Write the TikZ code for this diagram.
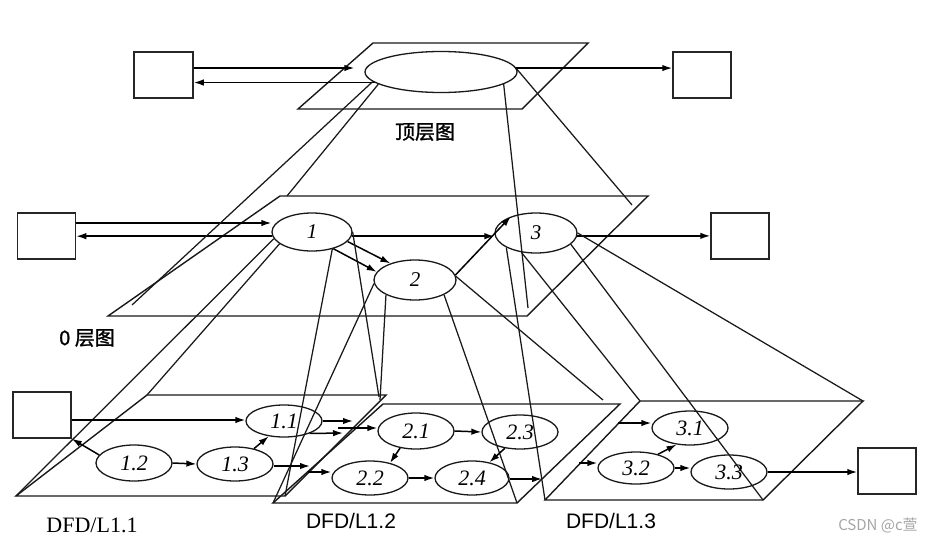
\documentclass[tikz,border=0pt]{standalone}
\usepackage{fontspec}
\setmainfont{Liberation Serif}
\newfontfamily\cjkfont[FakeBold=1.2]{Noto Sans CJK SC}
\newfontfamily\wmfont{Noto Sans CJK SC}
\newfontfamily\arialfont{Liberation Sans}
\usetikzlibrary{shapes.geometric,arrows.meta}
\begin{document}
\begin{tikzpicture}[x=1pt,y=-1pt,
  ln/.style={line width=1.25pt, draw=black!90},
  pg/.style={line width=1.4pt, draw=black!90, line join=miter},
  arr/.style={line width=1.5pt, draw=black, -{Latex[length=10pt,width=6.5pt]}},
  ent/.style={rectangle, draw=black!85, line width=1.5pt, minimum width=58pt, minimum height=46pt, inner sep=0pt},
  ell/.style={ellipse, draw=black!90, line width=1.3pt, inner sep=0pt},
  midlbl/.style={font=\fontsize{21}{24}\selectfont\itshape},
  botlbl/.style={font=\fontsize{22}{24}\selectfont\itshape},
]
\useasboundingbox (0,0) rectangle (928,541);
\fill[white] (0,0) rectangle (928,541);

% ---------- corner coordinates ----------
\coordinate (MBL) at (108,316); \coordinate (MBR) at (527,316);
\coordinate (MTR) at (648,196); \coordinate (MTL) at (280,196);
\coordinate (tpA) at (132,305); \coordinate (tpB) at (287,196);
\coordinate (tpC) at (528,308); \coordinate (tpD) at (632,205);
\coordinate (P1BL) at (16,496);  \coordinate (P1BR) at (285,496);
\coordinate (P1TR) at (386,395); \coordinate (P1TL) at (147,395);
\coordinate (P2BL) at (273,503); \coordinate (P2BR) at (517,503);
\coordinate (P2TR) at (620,404); \coordinate (P2TL) at (383,404);
\coordinate (P3BL) at (545,500); \coordinate (P3BR) at (763,500);
\coordinate (P3TR) at (863,401); \coordinate (P3TL) at (640,401);
\coordinate (q1) at (379,397); \coordinate (q2) at (380,400); \coordinate (q3) at (603,400);

% ---------- planes ----------
\draw[pg] (298,109) -- (522,109) -- (588,43) -- (373,43) -- cycle;
\draw[pg] (MBL) -- (MBR) -- (MTR) -- (MTL) -- cycle;
\draw[pg] (P1BL) -- (P1BR) -- (P1TR) -- (P1TL) -- cycle;
\draw[pg] (P2BL) -- (P2BR) -- (P2TR) -- (P2TL) -- cycle;
\draw[pg] (P3BL) -- (P3BR) -- (P3TR) -- (P3TL) -- cycle;

% ---------- top layer ----------
\node[ent, minimum width=59pt] (bTL) at (163.5,75) {};
\node[ell, minimum width=152pt, minimum height=41pt] (tE) at (441,72) {};
\node[ent] (bTR) at (702,75) {};
\draw[arr, shorten >=10pt] ([yshift=7pt]bTL.east) -- ([yshift=7pt]bTL.east -| tE.west);
\draw[arr] (tE.189) -- (tE.189 -| bTL.east);
\draw[arr] (tE.3) -- (tE.3 -| bTR.west);
\node[font=\cjkfont\fontsize{20}{24}\selectfont] (lblT) at (425,132) {顶层图};

% ---------- level 0 ----------
\node[ent] (bML) at (46.5,236) {};
\node[ell, midlbl, minimum width=80pt, minimum height=38pt] (e1) at (312,232) {1};
\node[ell, midlbl, minimum width=82pt, minimum height=40pt] (e2) at (415,280) {2};
\node[ell, midlbl, minimum width=82pt, minimum height=40pt] (e3) at (536,233) {3};
\node[ent] (bMR) at (740,236) {};
\draw[arr] ([yshift=13pt]bML.east) -- ([yshift=13pt]bML.east -| e1.west);
\draw[arr] (e1.186) -- (e1.186 -| bML.east);
\draw[arr] (e1.-6) -- (e1.-6 -| e3.west);
\draw[arr] (e1.-15) -- (e2.146);
\draw[arr] (e1.-38) -- (e2.168);
\draw[arr] (e2.7) -- (e3.147);
\draw[arr] (e3.-4) -- (e3.-4 -| bMR.west);
\node[font=\cjkfont\fontsize{20}{24}\selectfont] (lbl0) at (87,338) {0 层图};

% ---------- projection lines ----------
\draw[ln] (tE.188) -- (tpA);
\draw[ln] (tE.191) -- (tpB);
\draw[ln] (tE.-11) -- (tpC);
\draw[ln] (tE.2) -- (tpD);
\draw[ln] (e1.190) -- (P1BL);
\draw[ln] (e1.200) -- (P1TL);
\draw[ln] (e1.-40) -- (P1BR);
\draw[ln] (e1.east) -- (q1);
\draw[ln] (e2.185) -- (P2BL);
\draw[ln] (e2.207) -- (q2);
\draw[ln] (e2.-27) -- (P2BR);
\draw[ln] (e2.5) -- (q3);
\draw[ln] (e3.206) -- (P3BL);
\draw[ln] (e3.233) -- (P3TL);
\draw[ln] (e3.-18) -- (P3BR);
\draw[ln] (e3.east) -- (P3TR);

% ---------- bottom layer ----------
\node[ent] (bBL) at (42,415) {};
\node[ell, botlbl, minimum width=76pt, minimum height=32pt] (e11) at (284,421) {1.1};
\node[ell, botlbl, minimum width=76pt, minimum height=36pt] (e12) at (134,463) {1.2};
\node[ell, botlbl, minimum width=76pt, minimum height=34pt] (e13) at (235,464) {1.3};
\node[ell, botlbl, minimum width=76pt, minimum height=36pt] (e21) at (416,431) {2.1};
\node[ell, botlbl, minimum width=76pt, minimum height=34pt] (e23) at (520,432) {2.3};
\node[ell, botlbl, minimum width=76pt, minimum height=34pt] (e22) at (370,478) {2.2};
\node[ell, botlbl, minimum width=74pt, minimum height=34pt] (e24) at (472,478) {2.4};
\node[ell, botlbl, minimum width=76pt, minimum height=34pt] (e31) at (690,428) {3.1};
\node[ell, botlbl, minimum width=76pt, minimum height=32pt] (e32) at (636,468) {3.2};
\node[ell, botlbl, minimum width=76pt, minimum height=34pt] (e33) at (729,472) {3.3};
\node[ent] (bBR) at (887,471) {};

\coordinate (o11a) at (353,421);
\coordinate (o11b) at (343,433);
\coordinate (o13) at (310,466);
\coordinate (i21) at (338,428);
\coordinate (i22) at (308,472);
\coordinate (o24) at (542,479);
\coordinate (i31) at (618,423);
\coordinate (i32) at (579,463);

\draw[arr] ([yshift=-5pt]bBL.east) -- ([yshift=-5pt]bBL.east -| e11.west);
\draw[arr] (e12.167) -- (bBL.south east);
\draw[arr] (e12.east) -- (e13.west);
\draw[arr] (e13.39) -- (e11.-135);
\draw[arr] (e11.east) -- (o11a);
\draw[arr] (e11.-26) -- (o11b);
\draw[arr] ([yshift=-2pt]e13.east) -- (o13);
\draw[arr] (i21) -- (i21 -| e21.west);
\draw[arr] (i22) -- (i22 -| e22.west);
\draw[arr] (e21.east) -- (e23.west);
\draw[arr] (e21.-133) -- (e22.37);
\draw[arr] (e22.east) -- (e24.west);
\draw[arr] (e23.-133) -- (e24.42);
\draw[arr] ([yshift=-1pt]e24.east) -- (o24);
\draw[arr] (i31) -- (i31 -| e31.west);
\draw[arr] (i32) -- (i32 -| e32.west);
\draw[arr] (e32.32) -- (e31.-129);
\draw[arr] (e32.east) -- (e32.east -| e33.west);
\draw[arr] (e33.east) -- (e33.east -| bBR.west);

% ---------- labels ----------
\node[font=\fontsize{22}{26}\selectfont] (l11) at (92,525) {DFD/L1.1};
\node[font=\arialfont\fontsize{21}{25}\selectfont] (l12) at (351,521) {DFD/L1.2};
\node[font=\arialfont\fontsize{21}{25}\selectfont] (l13) at (611,521) {DFD/L1.3};
\node[text=black!35, font=\wmfont\fontsize{15}{18}\selectfont] (wm) at (878,525) {CSDN @c萱};
\end{tikzpicture}
\end{document}
